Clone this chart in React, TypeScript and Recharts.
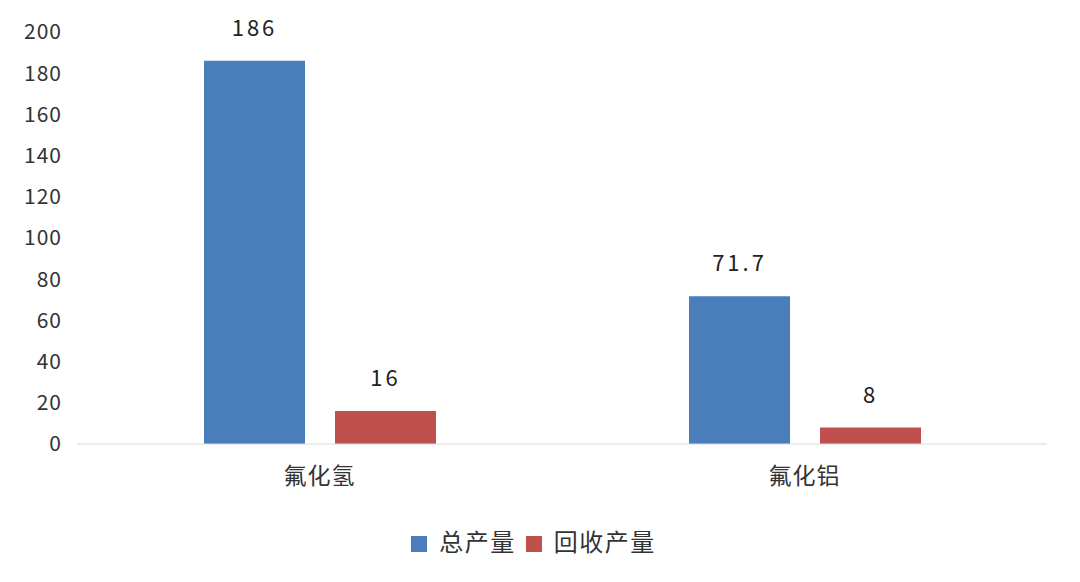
import { BarChart, Bar, XAxis, YAxis, Legend, LabelList } from "recharts";

const categories = ["氟化氢", "氟化铝"];
const totalOutput = [186, 71.7];
const recycledOutput = [16, 8];
const yTicks = [0, 20, 40, 60, 80, 100, 120, 140, 160, 180, 200];

const data = categories.map((name, i) => ({
  name,
  total: totalOutput[i],
  recycled: recycledOutput[i],
}));

const FONT = '"Noto Sans CJK SC", "Noto Sans", sans-serif';
const seriesOrder: Record<string, number> = { total: 0, recycled: 1 };

const labelStyle = { fill: "#222", fontSize: 22, fontFamily: FONT, letterSpacing: 3 };

export default function App() {
  return (
    <div style={{ position: "absolute", left: 0, top: 0, background: "#fff", fontFamily: FONT }}>
      <BarChart
        width={1080}
        height={582}
        data={data}
        margin={{ top: 32, right: 33, left: 2, bottom: 24 }}
        barGap={30}
        barSize={101}
      >
        <XAxis
          dataKey="name"
          axisLine={{ stroke: "#d9d9d9" }}
          tickLine={false}
          tickSize={6}
          tickMargin={18}
          height={79}
          tick={{ fill: "#333", fontSize: 23, fontFamily: FONT, letterSpacing: 1 }}
        />
        <YAxis
          width={75}
          domain={[0, 200]}
          ticks={yTicks}
          axisLine={false}
          tickLine={false}
          tickSize={6}
          tickMargin={9}
          tick={{ fill: "#333", fontSize: 21, fontFamily: FONT, letterSpacing: 1 }}
        />
        <Legend
          verticalAlign="bottom"
          iconType="square"
          iconSize={16}
          itemSorter={(item: any) => seriesOrder[item.dataKey] ?? 0}
          wrapperStyle={{ fontSize: 24, fontFamily: FONT, paddingLeft: 28, boxSizing: "border-box" }}
          formatter={(value) => (
            <span style={{ color: "#333", paddingLeft: 8, letterSpacing: 1.5 }}>{value}</span>
          )}
        />
        <Bar dataKey="total" name="总产量" fill="#4a7ebb" isAnimationActive={false}>
          <LabelList dataKey="total" position="top" offset={25} style={labelStyle} />
        </Bar>
        <Bar dataKey="recycled" name="回收产量" fill="#c0504d" isAnimationActive={false}>
          <LabelList dataKey="recycled" position="top" offset={25} style={labelStyle} />
        </Bar>
      </BarChart>
    </div>
  );
}
